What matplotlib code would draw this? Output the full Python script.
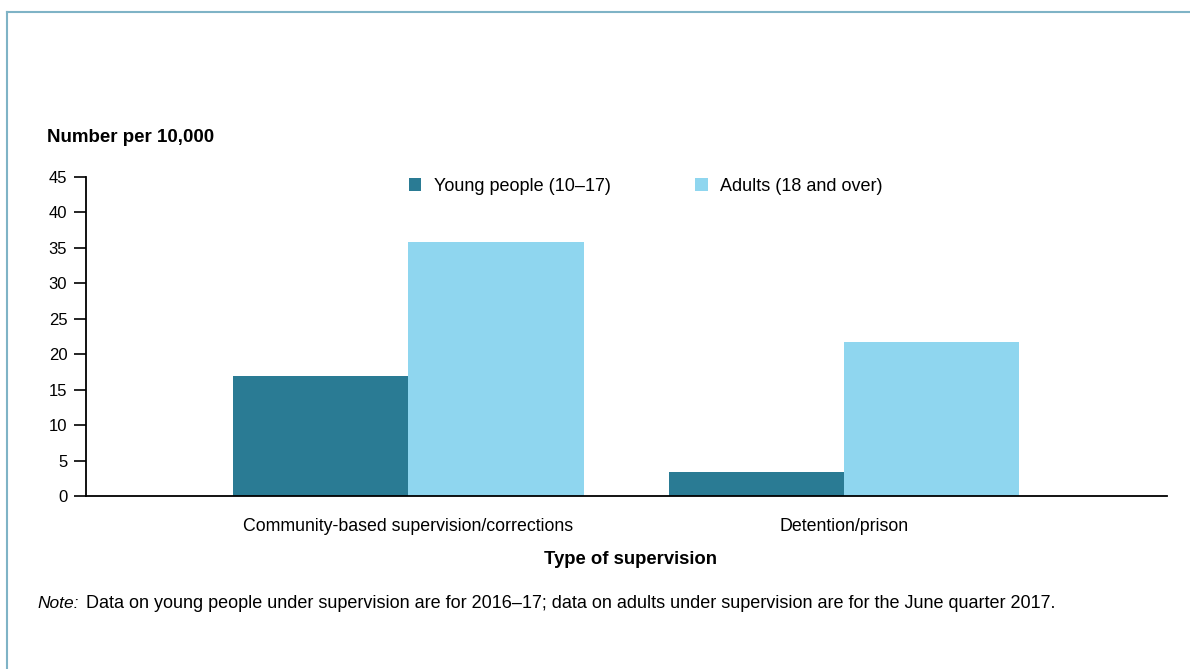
import matplotlib.pyplot as plt
from matplotlib.lines import Line2D
import numpy as np

plt.rcParams['font.family'] = ['Liberation Sans', 'DejaVu Sans']

categories = ['Community-based supervision/corrections', 'Detention/prison']
young = [16.9, 3.4]
adults = [35.8, 21.7]
series_labels = ['Young people (10\u201317)', 'Adults (18 and over)']
yticks = [0, 5, 10, 15, 20, 25, 30, 35, 40, 45]

dark = '#2a7b94'
light = '#8fd6ef'
border = '#7fb3c6'

W, H = 1190, 669
fig = plt.figure(figsize=(W / 100, H / 100), dpi=100)
ax = fig.add_axes([86 / W, 1 - 496 / H, (1167 - 86) / W, (496 - 177) / H])

x = np.arange(len(categories))
w = 0.4025
ax.bar(x - w / 2, young, width=w, color=dark, label=series_labels[0])
ax.bar(x + w / 2, adults, width=w, color=light, label=series_labels[1])

ax.set_xlim(-0.739, 1.741)
ax.set_ylim(0, 45)
ax.set_yticks(yticks)
ax.set_xticks(x)
ax.set_xticklabels(categories, fontsize=12.8)
ax.tick_params(axis='x', length=0, pad=16)
ax.tick_params(axis='y', direction='out', length=8.5, width=1.2, pad=5, labelsize=12)
for s in ['top', 'right']:
    ax.spines[s].set_visible(False)
ax.spines['left'].set_linewidth(1.3)
ax.spines['bottom'].set_linewidth(1.3)

leg = ax.legend(loc='upper left', bbox_to_anchor=(409 / W, 1 - 178 / H),
                bbox_transform=fig.transFigure, ncol=2, frameon=False,
                fontsize=13, handlelength=0.68, handleheight=0.68,
                handletextpad=0.68, columnspacing=4.7, borderaxespad=0, borderpad=0)

fig.text(47 / W, 1 - 138 / H, 'Number per 10,000', fontsize=13.5, fontweight='bold',
         ha='left', va='center')
fig.text(631 / W, 1 - 559 / H, 'Type of supervision', fontsize=13.3, fontweight='bold',
         ha='center', va='center')
fig.text(37 / W, 1 - 603 / H, 'Note:', fontsize=12.5, fontstyle='italic',
         ha='left', va='center')
fig.text(86 / W, 1 - 603 / H,
         'Data on young people under supervision are for 2016\u201317; '
         'data on adults under supervision are for the June quarter 2017.',
         fontsize=13, ha='left', va='center')

# frame lines around the chart
fig.add_artist(Line2D([7 / W, 1], [1 - 12 / H, 1 - 12 / H], color=border, lw=1.5,
                      transform=fig.transFigure))
fig.add_artist(Line2D([7 / W, 7 / W], [0, 1 - 12 / H], color=border, lw=1.5,
                      transform=fig.transFigure))

fig.savefig('out.png', dpi=100)
